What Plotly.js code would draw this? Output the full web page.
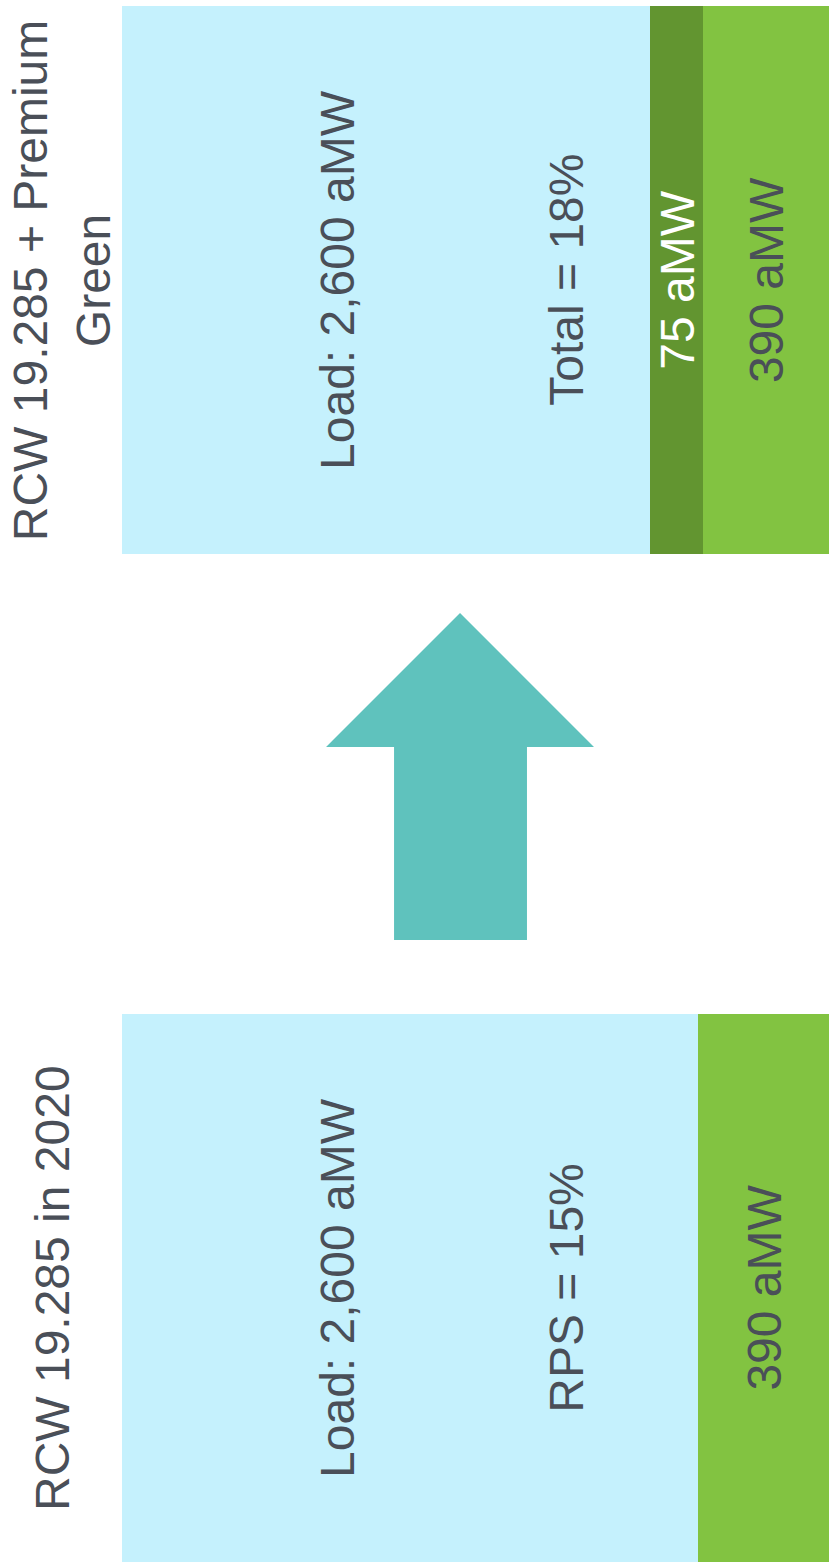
<!DOCTYPE html>
<html>
<head>
<meta charset="utf-8">
<script src="https://cdn.plot.ly/plotly-3.0.1.min.js"></script>
<style>html,body{margin:0;padding:0;background:#fff;}#chart{width:829px;height:1564px;}</style>
</head>
<body>
<div id="chart"></div>
<script>
// Categories (bottom to top)
var categories = ["RCW 19.285 in 2020", "RCW 19.285 + Premium<br>Green"];
// Segment widths as drawn (share of the drawn bar width, %)
var loadSeg = [81.5, 74.7];
var premiumSeg = [0, 7.5];
var rpsSeg = [18.5, 17.8];
// Labels
var loadLabels = ["Load: 2,600 aMW", "Load: 2,600 aMW"];
var shareLabels = ["RPS = 15%", "Total = 18%"];
var premiumLabels = ["", "75 aMW"];
var rpsLabels = ["390 aMW", "390 aMW"];

var ypos = categories.map(function(c, i){ return i; });
var textColor = "#4a4f58";
var font = "Liberation Sans, Arial, sans-serif";

var common = {type: "bar", orientation: "h", y: ypos, width: 0.543, hoverinfo: "skip"};
var traces = [
  Object.assign({}, common, {x: loadSeg, name: "Load", marker: {color: "#c5f1fd", line: {width: 0}}}),
  Object.assign({}, common, {x: premiumSeg, name: "Premium Green", marker: {color: "#629530", line: {width: 0}}}),
  Object.assign({}, common, {x: rpsSeg, name: "RPS", marker: {color: "#82c341", line: {width: 0}}})
];

var annotations = [];
var catX = [-0.099, -0.086];
var loadTextX = loadSeg[0] * 0.373;
var shareTextX = loadSeg[0] * 0.77;
categories.forEach(function(c, i){
  annotations.push({xref: "paper", yref: "y", x: catX[i], y: i, text: c, textangle: -90, showarrow: false,
    xanchor: "center", yanchor: "middle", font: {family: font, size: 48, color: textColor}});
  annotations.push({xref: "x", yref: "y", x: loadTextX, y: i, text: loadLabels[i], textangle: -90, showarrow: false,
    xanchor: "center", yanchor: "middle", font: {family: font, size: 48, color: textColor}});
  annotations.push({xref: "x", yref: "y", x: shareTextX, y: i, text: shareLabels[i], textangle: -90, showarrow: false,
    xanchor: "center", yanchor: "middle", font: {family: font, size: 48, color: textColor}});
  if (premiumSeg[i] > 0) {
    annotations.push({xref: "x", yref: "y", x: loadSeg[i] + premiumSeg[i] / 2, y: i, text: premiumLabels[i], textangle: -90, showarrow: false,
      xanchor: "center", yanchor: "middle", font: {family: font, size: 48, color: "#ffffff"}});
  }
  annotations.push({xref: "x", yref: "y", x: loadSeg[i] + premiumSeg[i] + rpsSeg[i] / 2, y: i, text: rpsLabels[i], textangle: -90, showarrow: false,
    xanchor: "center", yanchor: "middle", font: {family: font, size: 48, color: textColor}});
});

// Up arrow between the two bars (paper coordinates)
var arrowPath = "M 0.4781 0.6081 L 0.2886 0.5224 L 0.3848 0.5224 L 0.3848 0.3990 L 0.5728 0.3990 L 0.5728 0.5224 L 0.6676 0.5224 Z";

var layout = {
  width: 829, height: 1564,
  margin: {l: 122, r: 0, t: 0, b: 0},
  paper_bgcolor: "#ffffff", plot_bgcolor: "#ffffff",
  barmode: "stack",
  showlegend: false,
  xaxis: {range: [0, 100], visible: false, fixedrange: true},
  yaxis: {range: [-0.2738, 1.2778], visible: false, fixedrange: true},
  annotations: annotations,
  shapes: [{type: "path", xref: "paper", yref: "paper", path: arrowPath, fillcolor: "#5fc2bd", line: {width: 0}}]
};

Plotly.newPlot("chart", traces, layout, {displayModeBar: false, staticPlot: true});
</script>
</body>
</html>
